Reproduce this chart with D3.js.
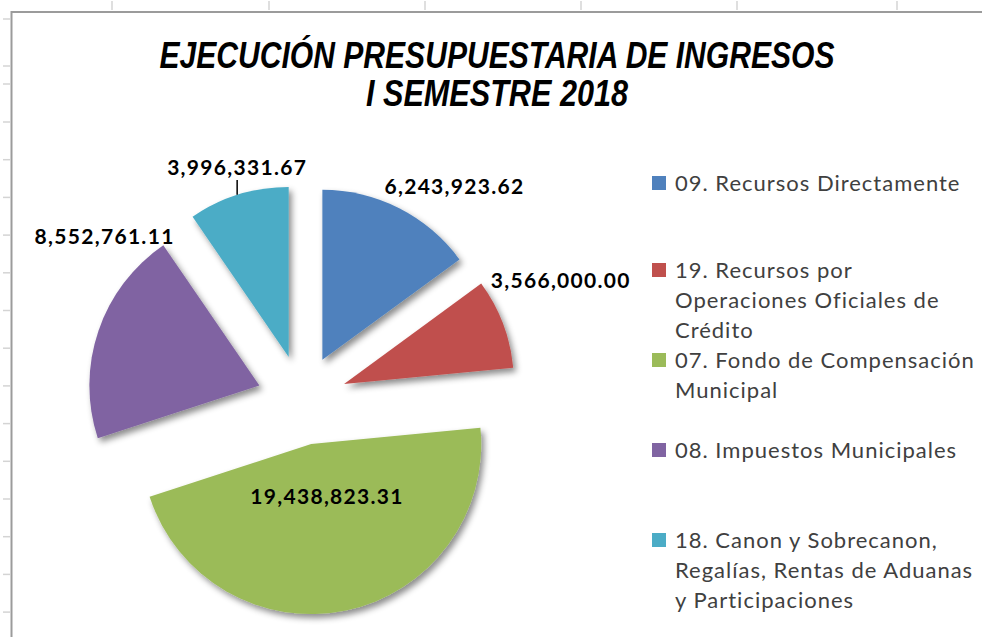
<!DOCTYPE html>
<html>
<head>
<meta charset="utf-8">
<script src="https://cdn.jsdelivr.net/npm/d3@7"></script>
<style>
  html, body { margin: 0; padding: 0; background: #fff; }
  svg { display: block; }
</style>
</head>
<body>
<div id="chart"></div>
<script>
// data
const categories = [
  '09. Recursos Directamente',
  '19. Recursos por Operaciones Oficiales de Crédito',
  '07. Fondo de Compensación Municipal',
  '08. Impuestos Municipales',
  '18. Canon y Sobrecanon, Regalías, Rentas de Aduanas y Participaciones'
];
const values = [6243923.62, 3566000.00, 19438823.31, 8552761.11, 3996331.67];
const legendLines = [
  ['09. Recursos Directamente'],
  ['19. Recursos por', 'Operaciones Oficiales de', 'Crédito'],
  ['07. Fondo de Compensación', 'Municipal'],
  ['08. Impuestos Municipales'],
  ['18. Canon y Sobrecanon,', 'Regalías, Rentas de Aduanas', 'y Participaciones']
];
const titleLines = ['EJECUCIÓN PRESUPUESTARIA DE INGRESOS', 'I SEMESTRE 2018'];

const colors = ['#4F81BD', '#C0504D', '#9BBB59', '#8064A2', '#4BACC6'];

const width = 982, height = 637;
const cx = 302, cy = 400, radius = 170, explode = 45;

// label placement relative to slice mid angle (degrees offset, radius from pie centre)
const labelLayout = [
  { dAngle: 8.7, r: 262 },
  { dAngle: -3.9, r: 285 },
  { dAngle: -2.7, r: 100 },
  { dAngle: 20.8, r: 256 },
  { dAngle: 1.6, r: 241, leader: true }
];

const svg = d3.select('#chart')
  .append('svg')
  .attr('width', width)
  .attr('height', height);

// drop shadow like the office chart
const defs = svg.append('defs');
const shadow = defs.append('filter')
  .attr('id', 'shadow')
  .attr('x', '-20%').attr('y', '-20%')
  .attr('width', '140%').attr('height', '140%');
shadow.append('feDropShadow')
  .attr('dx', 3).attr('dy', 4)
  .attr('stdDeviation', 3)
  .attr('flood-color', '#000')
  .attr('flood-opacity', 0.45);

// spreadsheet behind the chart
const sheet = svg.append('g').attr('class', 'sheet');
[112, 269, 425, 581, 737, 897].forEach(x => {
  sheet.append('line')
    .attr('x1', x).attr('x2', x).attr('y1', 1).attr('y2', 10)
    .style('stroke', '#d4d4d4').style('stroke-width', 1.5);
});
[19, 66, 84].concat(d3.range(122, 637, 37.7)).forEach(y => {
  sheet.append('line')
    .attr('x1', 3).attr('x2', 10).attr('y1', y).attr('y2', y)
    .style('stroke', '#d4d4d4').style('stroke-width', 1.5);
});

// chart area border
svg.append('path')
  .attr('d', `M11.5,${height} L11.5,12 L${width},12`)
  .style('fill', 'none')
  .style('stroke', '#9b9b9b')
  .style('stroke-width', 2);

// title
const title = svg.append('g').attr('class', 'title');
title.selectAll('text')
  .data(titleLines)
  .enter().append('text')
  .attr('x', 497)
  .attr('y', (d, i) => 68 + i * 38)
  .attr('text-anchor', 'middle')
  .attr('textLength', (d, i) => i === 0 ? 675 : 262)
  .attr('lengthAdjust', 'spacingAndGlyphs')
  .style('font-family', '"Liberation Sans Narrow", "Arial Narrow", "Liberation Sans", Arial, sans-serif')
  .style('font-weight', 'bold')
  .style('font-style', 'italic')
  .style('font-size', '36px')
  .style('fill', '#000')
  .text(d => d);

// pie
const pie = d3.pie().sort(null).value(d => d);
const arcs = pie(values);
const arc = d3.arc().innerRadius(0).outerRadius(radius);
const midAngle = d => (d.startAngle + d.endAngle) / 2;

const pieG = svg.append('g')
  .attr('class', 'pie')
  .attr('transform', `translate(${cx},${cy})`);

pieG.selectAll('.slice')
  .data(arcs)
  .enter().append('path')
  .attr('class', 'slice')
  .attr('transform', d => {
    const [ox, oy] = d3.pointRadial(midAngle(d), explode);
    return `translate(${ox},${oy})`;
  })
  .attr('d', arc)
  .style('fill', (d, i) => colors[i])
  .style('filter', 'url(#shadow)');

// leader lines
arcs.forEach((d, i) => {
  const lay = labelLayout[i];
  if (!lay.leader) return;
  const [ox, oy] = d3.pointRadial(midAngle(d), explode);
  const [ax, ay] = d3.pointRadial(midAngle(d), radius);
  const [lx, ly] = d3.pointRadial(midAngle(d) + lay.dAngle * Math.PI / 180, lay.r);
  pieG.append('line')
    .attr('x1', lx).attr('y1', ly + 12)
    .attr('x2', lx).attr('y2', oy + ay)
    .style('stroke', '#000')
    .style('stroke-width', 1.5);
});

// value labels
const fmt = d3.format(',.2f');
pieG.selectAll('.value-label')
  .data(arcs)
  .enter().append('text')
  .attr('class', 'value-label')
  .attr('transform', (d, i) => {
    const lay = labelLayout[i];
    const [lx, ly] = d3.pointRadial(midAngle(d) + lay.dAngle * Math.PI / 180, lay.r);
    return `translate(${lx},${ly})`;
  })
  .attr('text-anchor', 'middle')
  .attr('dy', '0.35em')
  .style('font-family', 'Lato, "Open Sans", sans-serif')
  .style('font-weight', 'bold')
  .style('font-size', '21px')
  .style('letter-spacing', '1.3px')
  .style('fill', '#000')
  .text(d => fmt(d.data));

// legend
const legendTop = [183, 270, 360, 450, 540];
const legend = svg.append('g')
  .attr('class', 'legend')
  .attr('transform', 'translate(652,0)');

const legendItem = legend.selectAll('.legend-item')
  .data(legendLines)
  .enter().append('g')
  .attr('class', 'legend-item')
  .attr('transform', (d, i) => `translate(0, ${legendTop[i]})`);

legendItem.append('rect')
  .attr('x', 0)
  .attr('y', -7)
  .attr('width', 14)
  .attr('height', 14)
  .style('fill', (d, i) => colors[i]);

legendItem.each(function (lines) {
  const t = d3.select(this).append('text')
    .style('font-family', 'Lato, "Open Sans", sans-serif')
    .style('font-size', '22px')
    .style('letter-spacing', '1px')
    .style('fill', '#404040');
  lines.forEach((line, j) => {
    t.append('tspan')
      .attr('x', 23)
      .attr('y', j * 30)
      .attr('dy', '0.36em')
      .text(line);
  });
});
</script>
</body>
</html>
